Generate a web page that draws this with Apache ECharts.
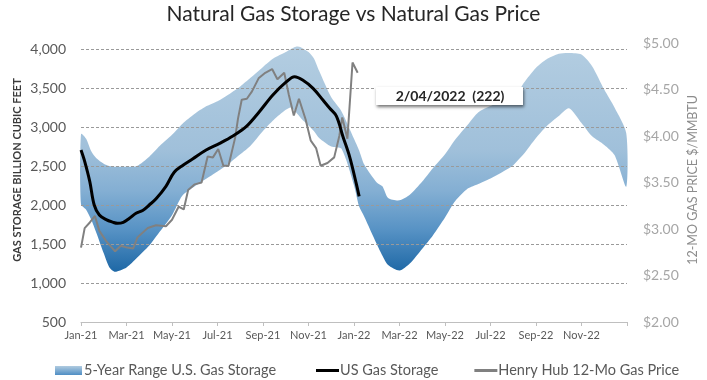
<!DOCTYPE html>
<html>
<head>
<meta charset="utf-8">
<script src="https://cdn.jsdelivr.net/npm/echarts@6/dist/echarts.min.js"></script>
<style>
html,body{margin:0;padding:0;background:#fff;}
#c{width:707px;height:380px;}
</style>
</head>
<body>
<div id="c"></div>
<script>
// ---- Data ----
const xTickLabels = ['Jan-21','Mar-21','May-21','Jul-21','Sep-21','Nov-21','Jan-22','Mar-22','May-22','Jul-22','Sep-22','Nov-22'];
const leftTicks = [500, 4000, 500];   // min, max, step (Bcf)
const rightTicks = [2, 5, 0.5];       // min, max, step ($/MMBtu)

const bandDates = ['2021-01-01','2021-01-08','2021-01-15','2021-01-22','2021-02-01','2021-02-08','2021-02-15','2021-03-01','2021-03-15','2021-04-01','2021-04-15','2021-05-01','2021-05-15','2021-06-01','2021-06-15','2021-07-01','2021-07-15','2021-08-01','2021-08-15','2021-09-01','2021-09-15','2021-10-01','2021-10-08','2021-10-15','2021-10-22','2021-11-01','2021-11-08','2021-11-15','2021-12-01','2021-12-15','2022-01-01','2022-01-08','2022-01-15','2022-02-01','2022-02-08','2022-02-15','2022-03-01','2022-03-15','2022-04-01','2022-04-15','2022-05-01','2022-05-15','2022-06-01','2022-06-15','2022-07-01','2022-07-15','2022-08-01','2022-08-08','2022-08-15','2022-09-01','2022-09-15','2022-10-01','2022-10-15','2022-11-01','2022-11-15','2022-12-01','2022-12-15','2022-12-31'];
const bandUpper = [2910,2850,2690,2600,2530,2500,2490,2490,2500,2620,2760,2900,3040,3170,3260,3330,3410,3520,3630,3770,3880,3960,4000,4030,4020,3960,3880,3720,3380,3200,2850,2700,2520,2290,2240,2090,2060,2130,2300,2470,2650,2840,3030,3190,3270,3310,3390,3450,3560,3760,3870,3940,3950,3930,3780,3480,3250,2920];
const bandLower = [2010,1940,1810,1640,1380,1200,1145,1200,1320,1480,1660,1870,2120,2240,2330,2430,2520,2650,2760,2950,3090,3220,3250,3190,3110,3020,2950,2860,2750,2720,2250,1980,1850,1500,1350,1230,1160,1250,1440,1610,1840,2050,2210,2270,2340,2410,2510,2580,2650,2860,3010,3140,3240,3050,2880,2770,2640,2235];

const storageDates = ['2021-01-01','2021-01-06','2021-01-13','2021-01-19','2021-01-26','2021-02-04','2021-02-12','2021-02-18','2021-02-25','2021-03-05','2021-03-14','2021-03-23','2021-04-01','2021-04-10','2021-04-23','2021-05-04','2021-05-16','2021-05-29','2021-06-16','2021-07-04','2021-07-22','2021-08-09','2021-08-27','2021-09-14','2021-10-02','2021-10-13','2021-10-24','2021-11-07','2021-11-20','2021-11-29','2021-12-08','2021-12-17','2021-12-26','2022-01-04','2022-01-08'];
const storageValues = [2705,2560,2300,2000,1872,1812,1780,1765,1778,1829,1895,1930,2000,2080,2240,2420,2510,2590,2705,2791,2885,3004,3196,3410,3581,3645,3603,3496,3346,3240,3140,2876,2620,2278,2110];

const priceDates = ['2021-01-01','2021-01-06','2021-01-13','2021-01-20','2021-01-26','2021-02-04','2021-02-15','2021-02-22','2021-03-02','2021-03-10','2021-03-16','2021-03-30','2021-04-10','2021-04-23','2021-05-01','2021-05-10','2021-05-17','2021-05-23','2021-06-01','2021-06-10','2021-06-18','2021-06-25','2021-07-02','2021-07-09','2021-07-16','2021-07-25','2021-07-29','2021-08-03','2021-08-10','2021-08-17','2021-08-26','2021-09-04','2021-09-13','2021-09-20','2021-09-29','2021-10-05','2021-10-12','2021-10-19','2021-10-28','2021-11-04','2021-11-11','2021-11-17','2021-11-26','2021-12-05','2021-12-12','2021-12-16','2021-12-23','2021-12-30','2022-01-06'];
const priceValues = [2.80,3.01,3.07,3.14,2.98,2.87,2.76,2.82,2.80,2.79,2.91,3.01,3.04,3.03,3.10,3.24,3.21,3.42,3.48,3.50,3.78,3.77,3.86,3.68,3.68,3.98,4.19,4.39,4.40,4.48,4.62,4.68,4.72,4.61,4.68,4.45,4.22,4.40,4.18,3.95,3.87,3.68,3.71,3.77,4.00,4.20,3.97,4.79,4.68];

const names = ['5-Year Range U.S. Gas Storage','US Gas Storage','Henry Hub 12-Mo Gas Price'];
const noteText = '2/04/2022  (222)';

// ---- helpers ----
function toMonth(s){
  const p = s.split('-').map(Number);
  const dim = new Date(p[0], p[1], 0).getDate();
  return (p[0]-2021)*12 + (p[1]-1) + (p[2]-1)/dim;
}
const pair = (d, v) => d.map((s,i)=>[toMonth(s), v[i]]);
const bandX = bandDates.map(toMonth);

const FONT = 'Lato, "Open Sans", sans-serif';
const chart = echarts.init(document.getElementById('c'), null, {renderer:'canvas'});

const bandFill = {
  type:'linear', x:0, y:46, x2:0, y2:272, global:true,
  colorStops:[
    {offset:0, color:'#b3cde1'},
    {offset:0.46, color:'#a0c0da'},
    {offset:0.64, color:'#84afd3'},
    {offset:0.81, color:'#5893c5'},
    {offset:1, color:'#1e68a6'}
  ]
};

const xBase = {type:'value', min:0, max:24, interval:2};

chart.setOption({
  animation:false,
  textStyle:{fontFamily:FONT},
  title:{
    text:'Natural Gas Storage vs Natural Gas Price',
    left:'center', top:-1,
    textStyle:{fontFamily:FONT, fontSize:21, fontWeight:'normal', color:'#262626'}
  },
  grid:[
    {left:81, right:80, top:49, bottom:58},
    {left:81, right:80, top:43, bottom:58}
  ],
  xAxis:[
    Object.assign({}, xBase, {
      gridIndex:0, z:2,
      axisLine:{show:true, lineStyle:{color:'#bfbfbf', width:1}},
      axisTick:{show:true, length:4, lineStyle:{color:'#bfbfbf'}},
      splitLine:{show:false},
      axisLabel:{
        margin:8, fontSize:11, color:'#595959', fontFamily:FONT,
        formatter: v => xTickLabels[Math.round(v/2)] || ''
      }
    }),
    Object.assign({}, xBase, {gridIndex:1, show:false})
  ],
  yAxis:[
    {
      type:'value', gridIndex:0, min:leftTicks[0], max:leftTicks[1], interval:leftTicks[2], z:2,
      axisLine:{show:false}, axisTick:{show:false},
      splitLine:{show:true, lineStyle:{color:'#9a9a9a', type:[3,2], width:1}},
      axisLabel:{margin:15, fontSize:14, color:'#595959', fontFamily:FONT,
        formatter: v => v.toLocaleString('en-US')}
    },
    {
      type:'value', gridIndex:1, position:'right', min:rightTicks[0], max:rightTicks[1], interval:rightTicks[2],
      axisLine:{show:false}, axisTick:{show:false}, splitLine:{show:false},
      axisLabel:{margin:16, fontSize:14, color:'#a6a6a6', fontFamily:FONT,
        formatter: v => '$' + v.toFixed(2)}
    }
  ],
  legend:[
    {
      left:50, top:358, itemWidth:27, itemHeight:9,
      textStyle:{fontFamily:FONT, fontSize:14.5, color:'#595959', padding:[0,0,0,-3]},
      data:[
        {name:names[0], icon:'rect', itemStyle:{color:{type:'linear',x:0,y:0,x2:0,y2:1,colorStops:[{offset:0,color:'#b0cbe0'},{offset:1,color:'#4f8ec4'}]}}}
      ]
    },
    {
      left:311, top:358, itemGap:36, itemWidth:23, itemHeight:3, icon:'rect',
      textStyle:{fontFamily:FONT, fontSize:14.5, color:'#595959', padding:[0,0,0,-4]},
      data:[
        {name:names[1], itemStyle:{color:'#000000'}},
        {name:names[2], itemStyle:{color:'#808080'}}
      ]
    }
  ],
  graphic:[
    {type:'text', x:17, y:170, rotation:Math.PI/2,
      style:{text:'GAS STORAGE BILLION CUBIC FEET', fontFamily:FONT, fontSize:11, fontWeight:'bold', fill:'#3a3a3a', align:'center', verticalAlign:'middle'}},
    {type:'group', children:[
      {type:'rect', shape:{x:376, y:87, width:147, height:18},
        style:{fill:'#ffffff', shadowBlur:3, shadowOffsetX:1, shadowOffsetY:2, shadowColor:'rgba(0,0,0,0.55)'}, z:10},
      {type:'text', x:450, y:96,
        style:{text:noteText, fontFamily:FONT, fontSize:14, fontWeight:'bold', fill:'#262626', align:'center', verticalAlign:'middle'}, z:11}
    ]},
    {type:'text', x:693, y:180, rotation:Math.PI/2,
      style:{text:'12-MO GAS PRICE $/MMBTU', fontFamily:FONT, fontSize:12.5, fill:'#8c8c8c', align:'center', verticalAlign:'middle'}}
  ],
  series:[
    {
      name:names[0], type:'custom', xAxisIndex:0, yAxisIndex:0, z:1,
      data:[0], itemStyle:{color:'#7aa8cf'}, silent:true,
      renderItem:(params, api) => {
        const up = bandX.map((x,i)=>api.coord([x, bandUpper[i]]));
        const lo = bandX.map((x,i)=>api.coord([x, bandLower[i]])).reverse();
        return {type:'polygon', shape:{points: up.concat(lo), smooth:0.25}, style:{fill: bandFill, stroke:null}};
      }
    },
    {
      name:names[1], type:'line', xAxisIndex:0, yAxisIndex:0, z:4,
      data: pair(storageDates, storageValues), symbol:'none', smooth:0.35,
      lineStyle:{color:'#000000', width:3}, itemStyle:{color:'#000000'}
    },
    {
      name:names[2], type:'line', xAxisIndex:1, yAxisIndex:1, z:3,
      data: pair(priceDates, priceValues), symbol:'none',
      lineStyle:{color:'#808080', width:2}, itemStyle:{color:'#808080'}
    }
  ]
});
</script>
</body>
</html>
